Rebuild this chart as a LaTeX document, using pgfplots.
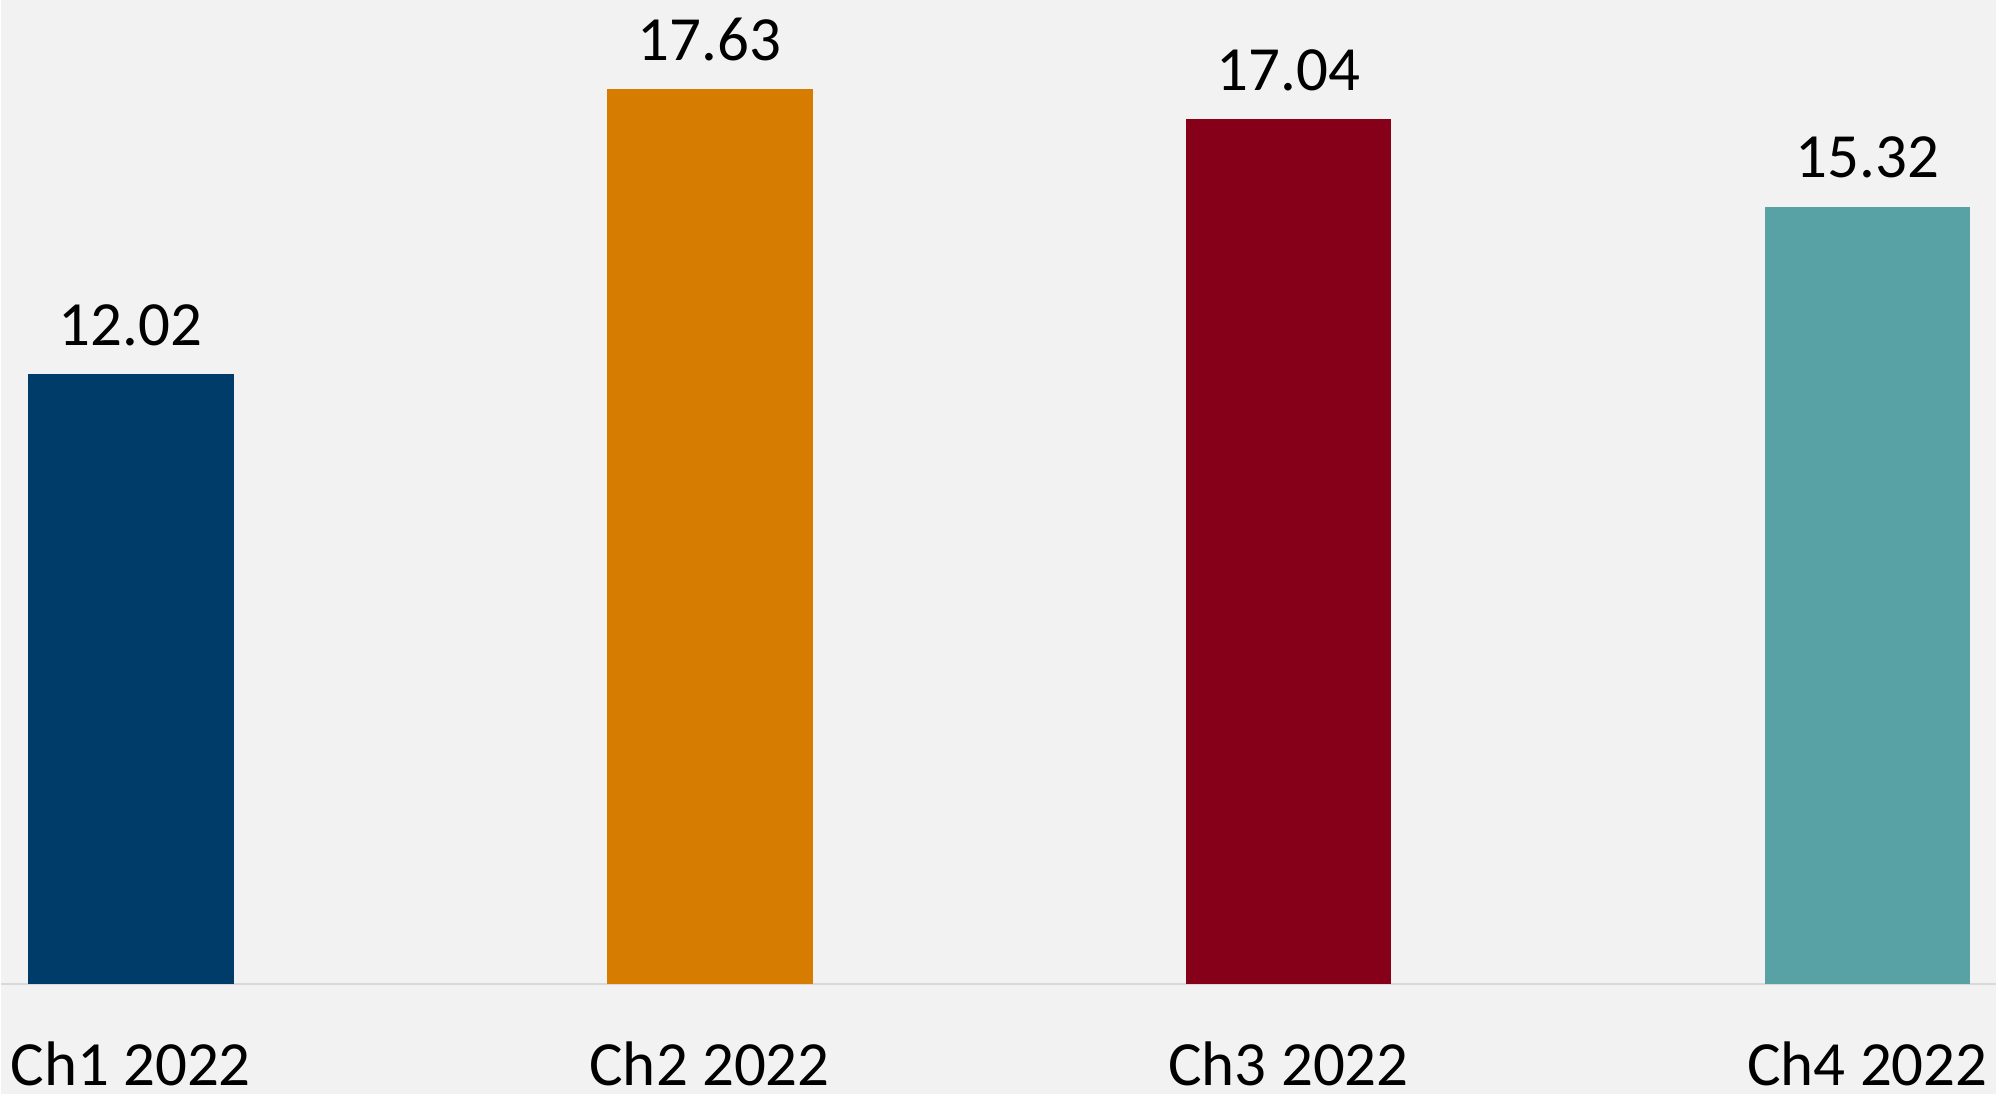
\documentclass[border=0pt]{standalone}
\usepackage{pgfplots}
\pgfplotsset{compat=1.18}
\usepackage{fontspec}
\setmainfont{Carlito}
\pgfdeclarelayer{background}
\pgfsetlayers{background,main}

\definecolor{bgc}{HTML}{F2F2F2}
\definecolor{axc}{HTML}{D9D9D9}
\definecolor{c1}{HTML}{003C69}
\definecolor{c2}{HTML}{D67C00}
\definecolor{c3}{HTML}{86001A}
\definecolor{c4}{HTML}{58A2A5}

\begin{document}
\begin{tikzpicture}
\begin{axis}[
    name=ax,
    scale only axis,
    width=998.5pt,
    height=492.5pt,
    ybar,
    bar width=103pt,
    bar shift=0pt,
    xmin=-0.224, xmax=3.222,
    ymin=0, ymax=19.39,
    xtick={0,1,2,3},
    xticklabels={Ch1 2022, Ch2 2022, Ch3 2022, Ch4 2022},
    major tick length=0pt,
    axis y line=none,
    axis x line*=bottom,
    x axis line style={draw=axc, line width=1pt},
    xticklabel style={font=\fontsize{31.5}{36}\selectfont, anchor=base, yshift=-51pt},
    nodes near coords,
    every node near coord/.append style={font=\fontsize{31.5}{36}\selectfont, anchor=base, yshift=14.5pt,
        /pgf/number format/.cd, fixed, fixed zerofill, precision=2, assume math mode=true},
    clip=false,
]
\addplot[fill=c1, draw=none] coordinates {(0,12.02)};
\addplot[fill=c2, draw=none] coordinates {(1,17.63)};
\addplot[fill=c3, draw=none] coordinates {(2,17.04)};
\addplot[fill=c4, draw=none] coordinates {(3,15.32)};
\end{axis}
\begin{pgfonlayer}{background}
\fill[bgc] ([yshift=-55pt]ax.south west) rectangle (ax.north east);
\end{pgfonlayer}
\end{tikzpicture}
\end{document}
